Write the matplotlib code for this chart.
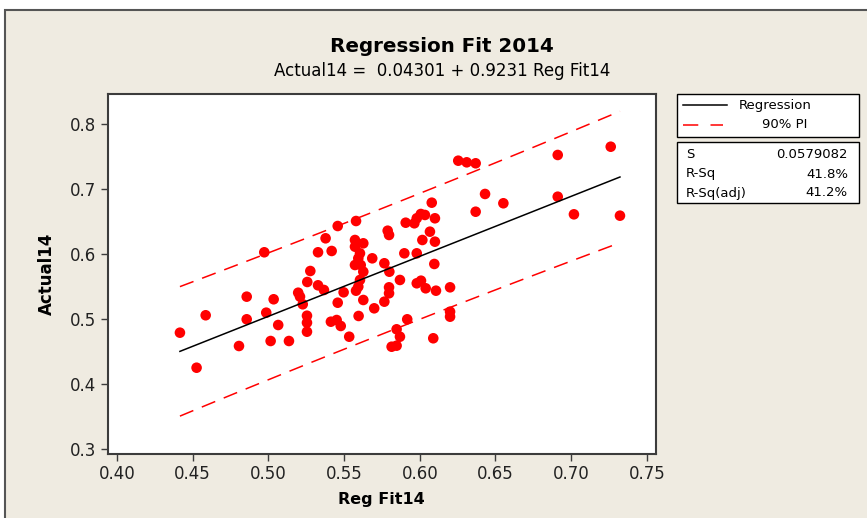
"""
Regression fit plot (Minitab style): Actual14 vs Reg Fit14 with 90% PI.
"""

import numpy as np
import matplotlib
matplotlib.use('Agg')
import matplotlib.pyplot as plt
import matplotlib.patches as patches
from matplotlib.lines import Line2D

# ---- data ----
reg_fit14 = [
    0.4416, 0.4526, 0.4586, 0.4806, 0.4857, 0.4857, 0.4973, 0.5035, 0.4986, 0.5065,
    0.5015, 0.5136, 0.5197, 0.5209, 0.5227, 0.5255, 0.5255, 0.5255, 0.5257, 0.5277,
    0.5328, 0.5367, 0.5328, 0.5418, 0.5378, 0.5458, 0.5458, 0.5413, 0.5451, 0.5478,
    0.5497, 0.5534, 0.5579, 0.5596, 0.5572, 0.5572, 0.5627, 0.5605, 0.5594, 0.5572,
    0.5610, 0.5627, 0.5605, 0.5594, 0.5579, 0.5627, 0.6079, 0.6034, 0.5980, 0.5964,
    0.6100, 0.5907, 0.5788, 0.5797, 0.6067, 0.6017, 0.6100, 0.5898, 0.5980, 0.6096,
    0.5686, 0.5766, 0.5799, 0.5869, 0.5980, 0.6008, 0.6039, 0.6107, 0.6200, 0.5797,
    0.5797, 0.5766, 0.5699, 0.6200, 0.6200, 0.5917, 0.5847, 0.5869, 0.5814, 0.5847,
    0.6089, 0.6254, 0.6310, 0.6369, 0.6911, 0.7261, 0.6431, 0.6552, 0.6369, 0.6911,
    0.7018, 0.7322, 0.6007,
]
actual14 = [
    0.4794, 0.4255, 0.5062, 0.4589, 0.5348, 0.5000, 0.6031, 0.5308, 0.5102, 0.4912,
    0.4666, 0.4666, 0.5409, 0.5348, 0.5231, 0.5055, 0.4948, 0.4809, 0.5574, 0.5743,
    0.5523, 0.5451, 0.6031, 0.6051, 0.6246, 0.6435, 0.5255, 0.4963, 0.4989, 0.4897,
    0.5415, 0.4732, 0.6512, 0.5051, 0.6220, 0.6117, 0.6169, 0.6015, 0.5938, 0.5835,
    0.5835, 0.5732, 0.5605, 0.5502, 0.5440, 0.5297, 0.6794, 0.6605, 0.6554, 0.6477,
    0.6554, 0.6486, 0.6363, 0.6297, 0.6348, 0.6220, 0.6194, 0.6015, 0.6015, 0.5851,
    0.5938, 0.5862, 0.5732, 0.5605, 0.5554, 0.5594, 0.5477, 0.5440, 0.5492, 0.5492,
    0.5400, 0.5271, 0.5169, 0.5117, 0.5040, 0.5000, 0.4846, 0.4732, 0.4578, 0.4594,
    0.4708, 0.7440, 0.7415, 0.7400, 0.7528, 0.7655, 0.6928, 0.6785, 0.6655, 0.6886,
    0.6615, 0.6594, 0.6620,
]

# fitted equation and summary printed on the chart
intercept = 0.04301
slope = 0.9231
s_value = 0.0579082
r_sq = "41.8%"
r_sq_adj = "41.2%"
t_90 = 1.661  # t(0.95, n-2)

x_ticks = [0.40, 0.45, 0.50, 0.55, 0.60, 0.65, 0.70, 0.75]
y_ticks = [0.3, 0.4, 0.5, 0.6, 0.7, 0.8]

W, H = 867, 518
BG = '#EFEBE1'
DARK = '#3C3C3C'


def fx(px):
    return px / W


def fy(py):
    return 1 - py / H


fig = plt.figure(figsize=(W / 100, H / 100), dpi=100, facecolor='white')

# beige panel with frame, as in the Minitab graph window
panel = patches.Rectangle((fx(5), -0.05), 1.1, fy(10) + 0.05, transform=fig.transFigure,
                          facecolor=BG, edgecolor='#555555', linewidth=1.5, zorder=-5)
fig.patches.append(panel)

ax = fig.add_axes([fx(107.7), fy(454.3), fx(655.7) - fx(107.7), fy(94) - fy(454.3)])
ax.set_facecolor('white')
ax.set_zorder(2)

x = np.array(reg_fit14)
y = np.array(actual14)
n = len(x)
xbar = x.mean()
sxx = ((x - xbar) ** 2).sum()

xs = np.linspace(x.min(), x.max(), 60)
fit = intercept + slope * xs
half = t_90 * s_value * np.sqrt(1 + 1 / n + (xs - xbar) ** 2 / sxx)

ax.scatter(x, y, s=58, color='#FF0000', edgecolors='none', zorder=3)
ax.plot(xs, fit, color='black', lw=1.1, zorder=4)
for band in (fit - half, fit + half):
    ln, = ax.plot(xs, band, color='#FF0000', lw=1.1, zorder=4)
    ln.set_dashes((9.5, 6))

ax.set_xlim(0.3939, 0.7558)
ax.set_ylim(0.2923, 0.8466)
ax.set_xticks(x_ticks)
ax.set_xticklabels([f'{v:.2f}' for v in x_ticks])
ax.set_yticks(y_ticks)
ax.set_yticklabels([f'{v:.1f}' for v in y_ticks])
ax.tick_params(direction='out', length=5, width=1, color=DARK, labelsize=12,
               labelcolor='#222222', pad=3)
for sp in ax.spines.values():
    sp.set_color(DARK)
    sp.set_linewidth(1.5)

ax.set_xlabel('Reg Fit14', fontsize=11.5, fontweight='bold', labelpad=6)
ax.set_ylabel('Actual14', fontsize=12, fontweight='bold', labelpad=10)

# titles
fig.text(fx(442), fy(46), 'Regression Fit 2014', ha='center', va='center',
         fontsize=14.3, fontweight='bold')
fig.text(fx(442), fy(71), 'Actual14 =  0.04301 + 0.9231 Reg Fit14', ha='center',
         va='center', fontsize=12)

# legend box
leg = patches.Rectangle((fx(677), fy(137)), fx(859) - fx(677), fy(94.3) - fy(137),
                        transform=fig.transFigure, facecolor='white',
                        edgecolor='black', linewidth=1)
fig.patches.append(leg)
fig.lines.append(Line2D([fx(683), fx(727)], [fy(105), fy(105)], color='black',
                        lw=1.1, transform=fig.transFigure))
pi_line = Line2D([fx(683), fx(723)], [fy(125), fy(125)], color='#FF0000',
                 lw=1.1, transform=fig.transFigure)
pi_line.set_dashes((10, 8))
fig.lines.append(pi_line)
fig.text(fx(739), fy(105), 'Regression', va='center', fontsize=9.5)
fig.text(fx(762), fy(125), '90% PI', va='center', fontsize=9.5)

# summary box
stats = patches.Rectangle((fx(677), fy(203.3)), fx(859) - fx(677), fy(142.3) - fy(203.3),
                          transform=fig.transFigure, facecolor='white',
                          edgecolor='black', linewidth=1)
fig.patches.append(stats)
rows = [('S', f'{s_value:.7f}'), ('R-Sq', r_sq), ('R-Sq(adj)', r_sq_adj)]
for i, (name, val) in enumerate(rows):
    yy = fy(155 + 19 * i)
    fig.text(fx(686), yy, name, va='center', fontsize=9.5)
    fig.text(fx(848), yy, val, va='center', ha='right', fontsize=9.5)

fig.savefig('out.png', dpi=100, facecolor=fig.get_facecolor())
